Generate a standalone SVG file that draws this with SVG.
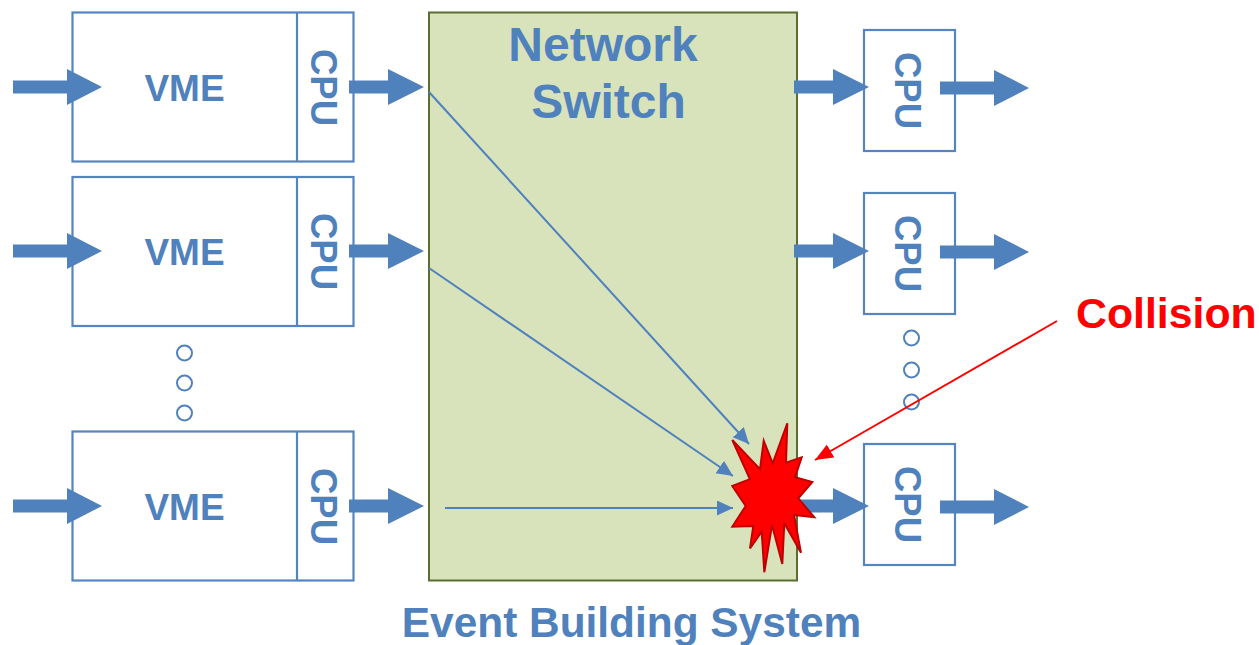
<svg xmlns="http://www.w3.org/2000/svg" width="1259" height="645" viewBox="0 0 1259 645">
<style>
.box{fill:#fff;stroke:#5585bf;stroke-width:2.200}
.t{font-family:"Liberation Sans",Arial,sans-serif;font-weight:bold;fill:#4f81bd}
.vme{font-size:37px;text-anchor:middle}
.cpu{font-size:36.500px;text-anchor:middle}
.big{font-size:48px;text-anchor:middle}
.dot{fill:#fff;stroke:#4f81bd;stroke-width:2}
.thin{fill:none;stroke:#4f81bd;stroke-width:2}
.blk{fill:#4f81bd}
</style>
<defs>
<path id="a54" class="blk" d="M0-6.500H54V-18L89 0 54 18V6.500H0Z"/>
<path id="a39" class="blk" d="M0-6.500H39V-18L75 0 39 18V6.500H0Z"/>
<marker id="hb" markerUnits="userSpaceOnUse" markerWidth="18" markerHeight="16" refX="16" refY="7.500" orient="auto"><path d="M0 0L16 7.500 0 15Z" fill="#4f81bd"/></marker>
<marker id="hr" markerUnits="userSpaceOnUse" markerWidth="20" markerHeight="16" refX="18" refY="7.500" orient="auto"><path d="M0 0L18 7.500 0 15Z" fill="#f00"/></marker>
</defs>
<g id="switch"><rect x="429" y="12.500" width="368" height="568" fill="#d8e3bc" stroke="#5a6e32" stroke-width="2"/>
<text class="t big" x="603" y="61">Network</text><text class="t big" x="608.500" y="118">Switch</text></g>
<g id="vme1"><rect class="box" x="72.500" y="12.500" width="281" height="149"/><path class="box" d="M297 12.500V161.500"/><text class="t vme" x="184.500" y="101">VME</text><text class="t cpu" transform="translate(311 87.500) rotate(90)">CPU</text></g>
<g id="vme2"><rect class="box" x="72.500" y="177" width="281" height="149"/><path class="box" d="M297 177V326"/><text class="t vme" x="184.500" y="265">VME</text><text class="t cpu" transform="translate(311 251.500) rotate(90)">CPU</text></g>
<g id="vme3"><rect class="box" x="72.500" y="431.500" width="281" height="149"/><path class="box" d="M297 431.500V580.500"/><text class="t vme" x="184.500" y="520">VME</text><text class="t cpu" transform="translate(311 506.500) rotate(90)">CPU</text></g>
<g id="cpu1"><rect class="box" x="864" y="30" width="91" height="121"/><text class="t cpu" transform="translate(895 90.500) rotate(90)">CPU</text></g>
<g id="cpu2"><rect class="box" x="864" y="193" width="91" height="121"/><text class="t cpu" transform="translate(895 253.500) rotate(90)">CPU</text></g>
<g id="cpu3"><rect class="box" x="864" y="444" width="91" height="121"/><text class="t cpu" transform="translate(895 504.500) rotate(90)">CPU</text></g>
<g id="dots-left"><circle class="dot" cx="184.500" cy="353" r="7.500"/><circle class="dot" cx="184.500" cy="383" r="7.500"/><circle class="dot" cx="184.500" cy="413" r="7.500"/></g>
<g id="dots-right"><circle class="dot" cx="911.500" cy="338" r="7.500"/><circle class="dot" cx="911.500" cy="370" r="7.500"/><circle class="dot" cx="911.500" cy="402" r="7.500"/></g>
<g id="connectors">
<use href="#a54" x="13" y="87"/><use href="#a54" x="13" y="251"/><use href="#a54" x="13" y="506"/>
<use href="#a39" x="349" y="87"/><use href="#a39" x="349" y="251"/><use href="#a39" x="349" y="506"/>
<use href="#a39" x="794" y="87"/><use href="#a39" x="794" y="251"/><use href="#a39" x="794" y="506"/>
<use href="#a54" x="940" y="88"/><use href="#a54" x="940" y="252"/><use href="#a54" x="940" y="507"/>
<path class="thin" d="M429 92L749 444" marker-end="url(#hb)"/>
<path class="thin" d="M429 268L733 476" marker-end="url(#hb)"/>
<path class="thin" d="M445 508H733" marker-end="url(#hb)"/>
<path d="M1057 321L815 460" fill="none" stroke="#f00" stroke-width="2" marker-end="url(#hr)"/>
</g>
<g id="collision"><polygon points="787.300,423.300 786,462.700 801.700,457.300 795,477.300 812.300,482 798.300,498.300 814.300,517.300 794,515 801,552.700 784.300,523.300 782.300,564 772,525 764.300,572.300 761.700,531.700 750,548.300 753.300,526 732.300,526.700 745.700,506 732.300,486 750,479.300 732.300,440 760,469.300 763.700,440.700 772.700,463.300" fill="#f00" stroke="#c00000" stroke-width="2"/>
<text x="1076" y="328" font-family="'Liberation Sans',Arial,sans-serif" font-weight="bold" font-size="42.800" fill="#f00">Collision</text></g>
<g id="caption"><text class="t" x="631.500" y="637" font-size="42.400" text-anchor="middle">Event Building System</text></g>
</svg>
